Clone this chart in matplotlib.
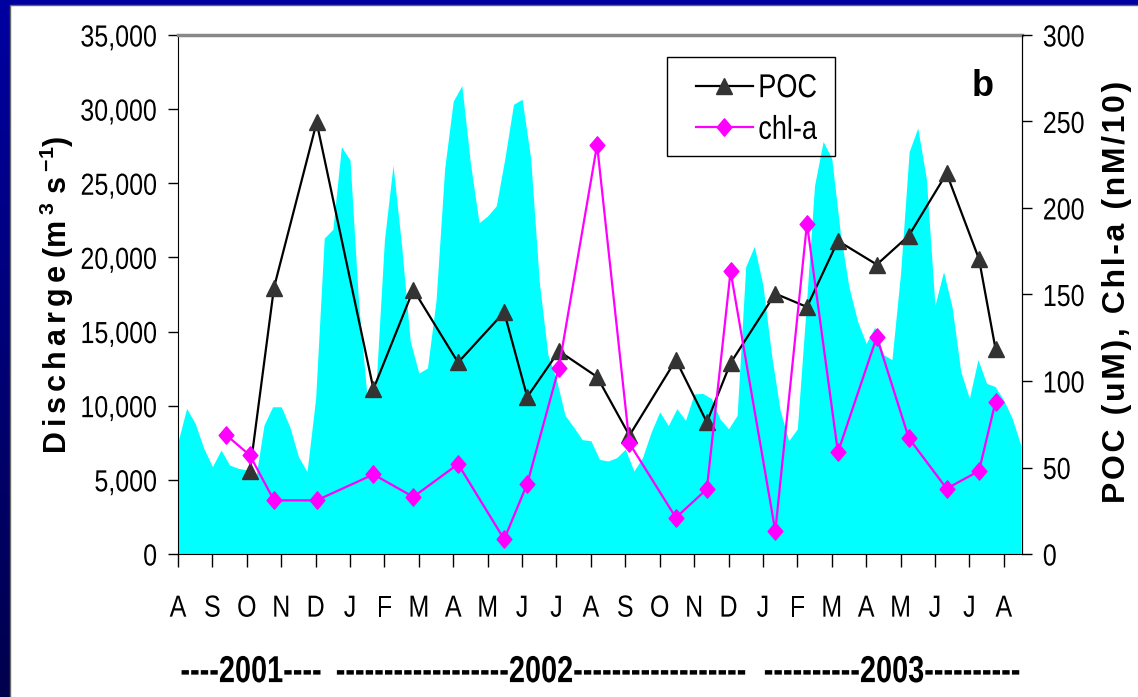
import numpy as np
import matplotlib
matplotlib.use('Agg')
import matplotlib.pyplot as plt
from matplotlib.patches import Rectangle
from matplotlib.path import Path
from matplotlib.patheffects import AbstractPathEffect
from matplotlib.transforms import Affine2D
from matplotlib.ticker import FuncFormatter

months = list('ASONDJFMAMJJASONDJFMAMJJA')
years = ['----2001----',
         '------------------2002------------------',
         '----------2003----------']

# river discharge (m3/s), read every quarter month starting 1 Aug 2001
discharge = [7570, 9820, 8810, 7120, 5890, 7010, 6000, 5780, 5660, 5000,
             8700, 9930, 9930, 8580, 6560, 5550, 10500, 21300, 21900, 27470,
             26560, 16870, 10490, 11170, 21200, 26220, 20750, 14360, 12200, 12540,
             17100, 25990, 30550, 31580, 26330, 22340, 22800, 23480, 26680, 30320,
             30670, 26680, 18350, 13450, 11740, 9350, 8550, 7710, 7640, 6380,
             6270, 6500, 7070, 5590, 6500, 8210, 9580, 8660, 9800, 9010,
             10790, 10830, 10490, 9120, 8440, 9350, 19380, 20750, 18130, 13450,
             9690, 7640, 8440, 16420, 24850, 27820, 26680, 21660, 18010, 15700,
             14200, 15300, 13450, 13110, 18920, 27130, 28730, 25310, 16760, 19040,
             16640, 12310, 10490, 13110, 11510, 11290, 10370, 9120, 7300]
disch_step = 0.25

# sampling times (months after 1 Aug 2001)
chl_t = [1.39, 2.09, 2.79, 4.03, 5.68, 6.84, 8.14, 9.48, 10.15, 11.07, 12.18, 13.12,
         14.47, 15.37, 16.06, 17.36, 18.28, 19.18, 20.31, 21.24, 22.34, 23.28, 23.76]
chl = [69, 57, 31, 31, 46, 33, 52, 8.5, 40.6, 107.7, 236.5, 64,
       21, 37.5, 163.4, 13.2, 191, 58.8, 125.5, 67, 37.8, 48, 88]
poc_t = chl_t[1:]
poc = [48, 154, 249.5, 95.4, 152.8, 110.7, 139.8, 90.8, 117.3, 102.4, 68.5,
       112.2, 76.2, 110.4, 150.5, 142.8, 181, 167.3, 184, 220, 170.5, 118.6]

left_ticks = list(range(0, 35001, 5000))
right_ticks = list(range(0, 301, 50))


class Stretch(AbstractPathEffect):
    """tall glyphs to fake Arial Narrow: stretch y about the cap centre"""

    def __init__(self, sy):
        super().__init__()
        self.sy = sy

    def draw_path(self, renderer, gc, tpath, affine, rgbFace=None):
        st = Affine2D().translate(0, -36).scale(1, self.sy).translate(0, 36)
        renderer.draw_path(gc, tpath, st + affine, rgbFace)


W, H = 1138, 697
plt.rcParams['font.family'] = ['Liberation Sans', 'DejaVu Sans']
plt.rcParams['mathtext.fontset'] = 'custom'
plt.rcParams['mathtext.rm'] = 'Liberation Sans'
plt.rcParams['mathtext.bf'] = 'Liberation Sans:bold'

fig = plt.figure(figsize=(W / 100, H / 100), dpi=100)

# dark blue slide frame behind a white panel
bg = fig.add_axes([0, 0, 1, 1], zorder=-10)
g = np.linspace(0.63, 0.30, 256)[:, None]
bg.imshow(np.dstack([g * 0, g * 0, g]), aspect='auto', extent=[0, 1, 0, 1])
bg.add_patch(Rectangle((10 / W, -0.01), 1, (H - 5) / H + 0.01,
                       facecolor='white', edgecolor='#666666', lw=1))
bg.set_xlim(0, 1)
bg.set_ylim(0, 1)
bg.axis('off')

narrow = [Stretch(1.22)]

ax = fig.add_axes([178 / W, 143 / H, 844 / W, 519 / H])
ax.set_facecolor('none')
xd = np.arange(len(discharge)) * disch_step
ax.fill_between(xd, discharge, color='#00FFFF', lw=0)
ax.set_xlim(0, 24.53)
ax.set_ylim(0, 35000)
ax.set_xticks(range(len(months)))
ax.set_xticklabels(months)
ax.set_yticks(left_ticks)
ax.yaxis.set_major_formatter(FuncFormatter(lambda v, p: f'{v:,.0f}'))
ax.tick_params(axis='x', direction='out', length=9, width=1, pad=21, labelsize=18)
ax.tick_params(axis='y', direction='out', length=7, width=1, pad=8, labelsize=18)
ax.spines['top'].set_color('#888888')
ax.spines['top'].set_linewidth(2.5)
for lab in ax.get_xticklabels() + ax.get_yticklabels():
    lab.set_path_effects(narrow)

diamond = Path([(0, 1), (0.85, 0), (0, -1), (-0.85, 0), (0, 1)],
               [Path.MOVETO, Path.LINETO, Path.LINETO, Path.LINETO, Path.CLOSEPOLY])

ax2 = ax.twinx()
ax2.set_ylim(0, 300)
ax2.plot(poc_t, poc, color='black', lw=1.6, marker='^', ms=11,
         mfc='#333333', mec='#333333', label='POC')
ax2.plot(chl_t, chl, color='#FF00FF', lw=1.6, marker=diamond, ms=12.5,
         mfc='#FF00FF', mec='#FF00FF', label='chl-a')
ax2.set_yticks(right_ticks)
ax2.tick_params(axis='y', direction='out', length=7, width=1, pad=8, labelsize=18)
for lab in ax2.get_yticklabels():
    lab.set_path_effects(narrow)
for s in ('top', 'bottom', 'left'):
    ax2.spines[s].set_visible(False)

# legend entries; the see-through frame is drawn separately
leg = ax2.legend(loc='upper left', bbox_to_anchor=(696 / W, 1 - 75 / H),
                 bbox_transform=fig.transFigure, frameon=False, fontsize=19.5,
                 handlelength=2.1, handletextpad=0.2, borderpad=0,
                 labelspacing=0.58, borderaxespad=0)
for t in leg.get_texts():
    t.set_path_effects(narrow)
ax2.add_patch(Rectangle((667 / W, 1 - 156 / H), 168 / W, 99 / H, fill=False,
                        edgecolor='black', lw=1, transform=fig.transFigure,
                        clip_on=False, zorder=4))

sp = '\u2006'
left_lab = sp.join('Discharge') + ' (m' + sp + r'$^{\mathbf{3}}$' + ' s' + sp + r'$^{\mathbf{-1}}$' + ')'
right_lab = '\u200a'.join('POC (uM), Chl-a (nM/10)')
fig.text(57 / W, 1 - 295 / H, left_lab, rotation=90, ha='center', va='center',
         fontsize=22, fontweight='bold')
fig.text(1117 / W, 1 - 292 / H, right_lab, rotation=90, ha='center', va='center',
         fontsize=23, fontweight='bold')
fig.text(983 / W, 1 - 87 / H, 'b', ha='center', va='center',
         fontsize=26, fontweight='bold')

for cx, txt in zip([251, 541, 892], years):
    t = fig.text(cx / W, 1 - 671 / H, txt, ha='center', va='center',
                 fontsize=20.8, fontweight='bold')
    t.set_path_effects([Stretch(1.3)])

fig.savefig('out.png', dpi=100)
